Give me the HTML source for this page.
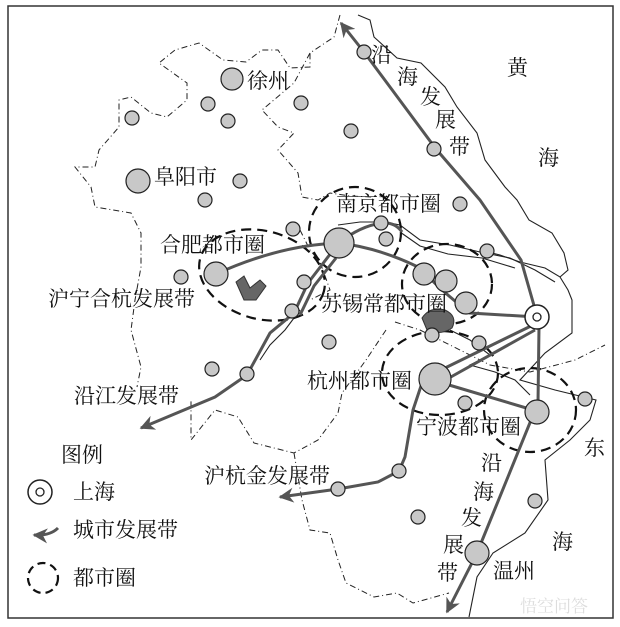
<!DOCTYPE html>
<html><head><meta charset="utf-8"><style>
html,body{margin:0;padding:0;background:#fff;width:620px;height:627px;overflow:hidden}
svg{display:block}
text{font-family:"Liberation Serif","Noto Serif CJK SC",serif;font-size:21px;fill:#111}
</style></head><body>
<svg width="620" height="627" viewBox="0 0 620 627" xmlns="http://www.w3.org/2000/svg">
<defs>
<marker id="ar" viewBox="0 0 10 10" refX="9" refY="5" markerWidth="5" markerHeight="5" orient="auto-start-reverse">
<path d="M0,0 L10,5 L0,10 L3,5 Z" fill="#555"/></marker>
</defs>
<rect x="8" y="6" width="605" height="612" fill="#fff" stroke="#333" stroke-width="1.5"/>

<g fill="none" stroke="#222" stroke-width="1" stroke-dasharray="6,3,1,3">
<polyline points="340,15 334,37 310,53 310,67 290,68 278,50 262,50 246,62 223,60 199,43 175,50 159,63 187,83 187,100 167,117 151,113 131,97 119,100 119,127 99,150 95,167 75,167 91,187 95,207 131,213 141,233 141,267 135,300 131,330 141,367 137,387"/>
<polyline points="310,53 294,83 262,110 278,127 294,133 278,150 298,173 302,197 318,200 330,193 350,196 372,197"/>
<polyline points="386,330 366,360 342,393 338,413 318,440 294,453 254,443 238,417 215,410 191,440 191,400"/>
<polyline points="294,453 302,500 310,530 330,533 338,560 346,583 374,597 397,593 413,603 449,593"/>
<polyline points="395,322 420,330 450,345 490,365 530,372 575,360 605,345"/>
<polyline points="300,230 310,250 320,262 330,290 310,300"/>
</g>

<g fill="none" stroke="#222" stroke-width="1.1">
<polyline points="358,15 370,20 374,37 397,58 421,63 445,87 457,107 477,133 485,160 505,187 517,200 529,220 552,233 564,253 568,270 560,277 545,268 520,262 500,255 480,250"/>
<polyline points="560,277 568,290 572,300 572,333 545,353 520,380 555,390 596,400 590,420 570,440 545,460 548,500 525,533 493,553 477,577 469,617"/>
<polyline points="338,225 360,222 385,222 400,225 420,240 450,245 480,252 510,258 535,270 555,282"/>
<polyline points="400,232 420,246 448,254 482,258 515,268"/>
<polyline points="450,330 470,340 490,355 470,365 495,372 515,380 530,395"/>
<polyline points="260,360 270,345 285,330 300,310"/>
</g>

<g fill="none" stroke="#111" stroke-width="2.2" stroke-dasharray="10,6">
<ellipse cx="355" cy="232" rx="46" ry="45"/>
<ellipse cx="262" cy="275" rx="64" ry="44" transform="rotate(15 262 275)"/>
<ellipse cx="447" cy="284" rx="45" ry="40"/>
<ellipse cx="440" cy="373" rx="58" ry="42"/>
<ellipse cx="530" cy="410" rx="46" ry="42"/>
</g>

<path d="M236,282 L244,276 L250,288 L260,280 L266,286 L256,300 L244,300 Z" fill="#666" stroke="#333"/>
<path d="M422,318 Q430,306 445,310 Q458,316 452,328 Q440,336 427,330 Z" fill="#666" stroke="#333"/>

<g fill="none" stroke="#555" stroke-width="3">
<polyline points="537,316 521,260 480,200 436,149 364,52 341,23" marker-end="url(#ar)"/>
<polyline points="539,327 538,403 477,553 447,612" marker-end="url(#ar)"/>
<path d="M537,317 L470,313 Q440,290 420,268 Q380,248 339,243 Q280,245 216,274"/>
<path d="M339,243 Q360,226 382,223 Q395,222 402,232"/>
<polyline points="331,253 308,283 294,313 270,333 247,375 215,397 141,428" marker-end="url(#ar)"/>
<polyline points="336,258 314,286 300,315"/>
<line x1="533" y1="325" x2="445" y2="368"/>
<line x1="535" y1="330" x2="449" y2="378"/>
<line x1="449" y1="385" x2="533" y2="410"/>
<polyline points="422,383 413,410 405,457 399,471 378,482 338,489 280,497" marker-end="url(#ar)"/>
</g>

<g fill="#c8c8c8" stroke="#222" stroke-width="1.2">
<circle cx="232" cy="79" r="11"/>
<circle cx="138" cy="181" r="12"/>
<circle cx="339" cy="243" r="15"/>
<circle cx="216" cy="274" r="12"/>
<circle cx="424" cy="274" r="11"/>
<circle cx="446" cy="281" r="11"/>
<circle cx="466" cy="303" r="11"/>
<circle cx="435" cy="379" r="16"/>
<circle cx="537" cy="412" r="12"/>
<circle cx="477" cy="553" r="12"/>
<circle cx="208" cy="104" r="7"/><circle cx="228" cy="121" r="7"/><circle cx="132" cy="118" r="7"/>
<circle cx="301" cy="103" r="7"/><circle cx="351" cy="131" r="7"/><circle cx="364" cy="52" r="7"/>
<circle cx="434" cy="149" r="7"/><circle cx="240" cy="181" r="7"/><circle cx="205" cy="200" r="7"/>
<circle cx="460" cy="204" r="7"/><circle cx="381" cy="223" r="7"/><circle cx="386" cy="239" r="7"/>
<circle cx="293" cy="229" r="7"/><circle cx="181" cy="277" r="7"/><circle cx="304" cy="282" r="7"/>
<circle cx="292" cy="311" r="7"/><circle cx="487" cy="251" r="7"/><circle cx="329" cy="342" r="7"/>
<circle cx="212" cy="369" r="7"/><circle cx="247" cy="374" r="7"/><circle cx="432" cy="335" r="7"/>
<circle cx="479" cy="343" r="7"/><circle cx="465" cy="403" r="7"/><circle cx="585" cy="399" r="7"/>
<circle cx="399" cy="471" r="7"/><circle cx="338" cy="489" r="7"/><circle cx="418" cy="517" r="7"/>
<circle cx="535" cy="501" r="7"/>
</g>
<circle cx="537" cy="317" r="12" fill="#fff" stroke="#222" stroke-width="1.5"/>
<circle cx="537" cy="317" r="4" fill="#fff" stroke="#222" stroke-width="1.3"/>

<g>
<text x="247" y="88">徐州</text>
<text x="154" y="184">阜阳市</text>
<text x="336" y="211">南京都市圈</text>
<text x="160" y="252">合肥都市圈</text>
<text x="48" y="306">沪宁合杭发展带</text>
<text x="321" y="311">苏锡常都市圈</text>
<text x="74" y="403">沿江发展带</text>
<text x="307" y="388">杭州都市圈</text>
<text x="416" y="434">宁波都市圈</text>
<text x="204" y="483">沪杭金发展带</text>
<text x="493" y="578">温州</text>
<text x="584" y="455">东</text>
<text x="552" y="549">海</text>
<text x="507" y="75">黄</text>
<text x="538" y="165">海</text>
<text x="371" y="62">沿</text><text x="397" y="84">海</text><text x="420" y="104">发</text><text x="435" y="127">展</text><text x="449" y="154">带</text>
<text x="481" y="470">沿</text><text x="473" y="499">海</text><text x="461" y="525">发</text><text x="443" y="552">展</text><text x="437" y="580">带</text>
<text x="61" y="462">图例</text>
<text x="73" y="499">上海</text>
<text x="73" y="537">城市发展带</text>
<text x="73" y="585">都市圈</text>
</g>
<circle cx="40" cy="492" r="12" fill="#fff" stroke="#222" stroke-width="1.5"/>
<circle cx="40" cy="492" r="4" fill="#fff" stroke="#222" stroke-width="1.3"/>
<path d="M58,528 Q50,536 34,535" fill="none" stroke="#555" stroke-width="3" marker-end="url(#ar)"/>
<circle cx="43" cy="578" r="15" fill="none" stroke="#111" stroke-width="2.2" stroke-dasharray="8,5"/>
<text x="520" y="612" style="font-size:17px;fill:#ddd">悟空问答</text>
</svg>
</body></html>
